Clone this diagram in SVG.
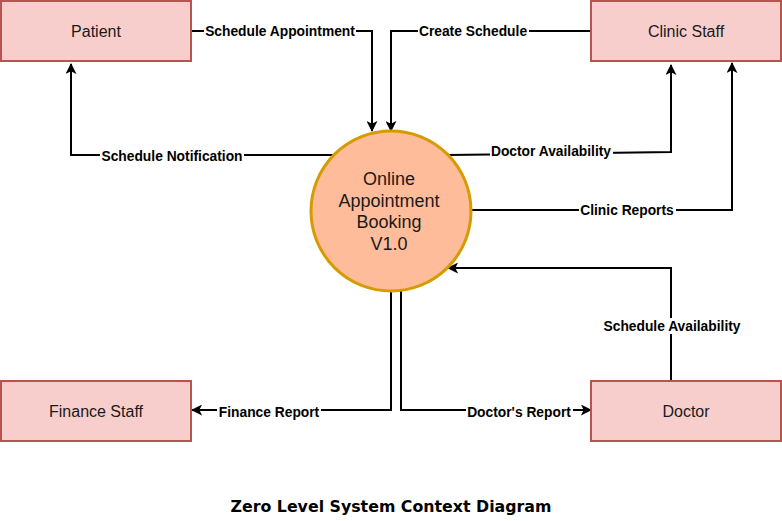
<svg xmlns="http://www.w3.org/2000/svg" width="782" height="521" viewBox="0 0 782 521">
<style>
.box{fill:#f8cecc;stroke:#b85450;stroke-width:2}
.ntext{font-family:"Liberation Sans",Arial,sans-serif;font-size:16px;fill:#1a1a1a;text-anchor:middle}
.ctext{font-family:"Liberation Sans",Arial,sans-serif;font-size:18px;fill:#1a1a1a;text-anchor:middle}
.edge{fill:none;stroke:#000;stroke-width:2}
.lbg{fill:#fff}
.lbl{font-family:"Liberation Sans",Arial,sans-serif;font-size:13.8px;font-weight:bold;fill:#000;text-anchor:middle}
.title{font-family:"DejaVu Sans",Verdana,sans-serif;font-size:15.8px;font-weight:bold;fill:#000;text-anchor:middle}
</style>
<defs>
<marker id="arr" viewBox="0 0 12 12" refX="11" refY="6" markerWidth="11" markerHeight="11" markerUnits="userSpaceOnUse" orient="auto">
<path d="M0,0 L12,6 L0,12 L3,6 Z" fill="#000"/>
</marker>
</defs>
<rect width="782" height="521" fill="#fff"/>
<g id="connectors">
<path class="edge" d="M191,31 H372 V131" marker-end="url(#arr)"/>
<path class="edge" d="M591,31 H391 V131" marker-end="url(#arr)"/>
<path class="edge" d="M334,155 H71 V64" marker-end="url(#arr)"/>
<path class="edge" d="M448,155 L671,152 V65" marker-end="url(#arr)"/>
<path class="edge" d="M471,210 H732 V63" marker-end="url(#arr)"/>
<path class="edge" d="M671,381 V268 H448" marker-end="url(#arr)"/>
<path class="edge" d="M391,291 V410 H192" marker-end="url(#arr)"/>
<path class="edge" d="M401,291 V410 H591" marker-end="url(#arr)"/>
<g id="labels">
<rect class="lbg" x="204" y="23" width="152" height="16"/>
<text class="lbl" x="280" y="36">Schedule Appointment</text>
<rect class="lbg" x="418" y="23" width="111" height="16"/>
<text class="lbl" x="473" y="36">Create Schedule</text>
<rect class="lbg" x="100" y="148" width="144" height="16"/>
<text class="lbl" x="172" y="161">Schedule Notification</text>
<rect class="lbg" x="490" y="143" width="123" height="16"/>
<text class="lbl" x="551" y="156">Doctor Availability</text>
<rect class="lbg" x="579" y="202" width="97" height="16"/>
<text class="lbl" x="627" y="215">Clinic Reports</text>
<rect class="lbg" x="602" y="318" width="140" height="16"/>
<text class="lbl" x="672" y="331">Schedule Availability</text>
<rect class="lbg" x="217" y="404" width="104" height="16"/>
<text class="lbl" x="269" y="417">Finance Report</text>
<rect class="lbg" x="466" y="404" width="107" height="16"/>
<text class="lbl" x="519" y="417">Doctor's Report</text>
</g>
</g>
<g id="patient">
<rect class="box" x="1" y="1" width="190" height="60"/>
<text class="ntext" x="96" y="37">Patient</text>
</g>
<g id="clinic-staff">
<rect class="box" x="591" y="1" width="190" height="60"/>
<text class="ntext" x="686" y="37">Clinic Staff</text>
</g>
<g id="finance-staff">
<rect class="box" x="1" y="381" width="190" height="60"/>
<text class="ntext" x="96" y="417">Finance Staff</text>
</g>
<g id="doctor">
<rect class="box" x="591" y="381" width="190" height="60"/>
<text class="ntext" x="686" y="417">Doctor</text>
</g>
<g id="system">
<circle cx="391" cy="211" r="80" fill="#ffbc9a" stroke="#d79b00" stroke-width="3"/>
<text class="ctext" x="389" y="184.5">Online</text>
<text class="ctext" x="389" y="206.5">Appointment</text>
<text class="ctext" x="389" y="228">Booking</text>
<text class="ctext" x="389" y="249.5">V1.0</text>
</g>
<text class="title" x="391" y="512">Zero Level System Context Diagram</text>
</svg>
